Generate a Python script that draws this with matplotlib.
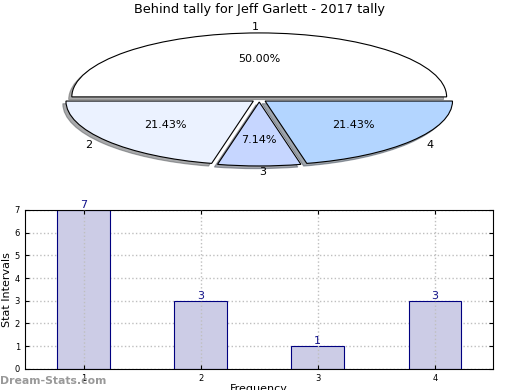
import matplotlib
matplotlib.use("Agg")
import matplotlib.pyplot as plt
import numpy as np

# data
categories = ["1", "2", "3", "4"]
counts = [7, 3, 1, 3]
slice_colors = ["#ffffff", "#ebf2ff", "#c6d6ff", "#b3d5ff"]
title = "Behind tally for Jeff Garlett - 2017 tally"

fig = plt.figure(figsize=(5.2, 3.9), dpi=100)
fig.patch.set_facecolor("white")

# pie, squashed to fill a wide axes
ax_pie = fig.add_axes([0.048, 0.54, 0.901, 0.41])
ax_pie.pie(counts, labels=categories, colors=slice_colors, autopct="%1.2f%%",
           explode=[0.04] * len(counts),
           shadow={"ox": -0.012, "oy": -0.03, "shade": 0.65},
           startangle=0,
           wedgeprops={"edgecolor": "black", "linewidth": 0.8},
           textprops={"fontsize": 8})
ax_pie.set_aspect("auto")
ax_pie.set_xlim(-1.25, 1.25)
ax_pie.set_ylim(-1.25, 1.25)
ax_pie.set_title(title, fontsize=9.3, pad=5)

# bar chart
ax_bar = fig.add_axes([0.048, 0.054, 0.901, 0.408])
x = np.arange(1, len(counts) + 1)
bars = ax_bar.bar(x, counts, width=0.45, color="#ccccE6", edgecolor="#000080",
                  linewidth=0.8, zorder=1)
for xi, c in zip(x, counts):
    ax_bar.text(xi, c, str(c), ha="center", va="bottom", fontsize=8,
                color="#14148c", zorder=3)

ax_bar.set_xlim(0.5, 4.5)
ax_bar.set_ylim(0, 7)
ax_bar.set_xticks(x)
ax_bar.set_xticklabels(categories)
ax_bar.set_yticks(range(0, 8))
ax_bar.tick_params(direction="in", top=True, right=True, labelsize=6, length=3)
ax_bar.grid(True, linestyle=":", color="0.75", linewidth=1)
ax_bar.set_axisbelow(True)
ax_bar.xaxis.set_zorder(2.5)   # vertical grid shows over the bars
ax_bar.set_ylabel("Stat Intervals", fontsize=8, labelpad=2)
ax_bar.set_xlabel("Frequency", fontsize=8, labelpad=1)

fig.text(0.0, 0.01, "Dream-Stats.com", fontsize=7.8, color="#999999",
         fontweight="bold", ha="left", va="bottom")

fig.savefig("out.png", dpi=100, facecolor="white")
